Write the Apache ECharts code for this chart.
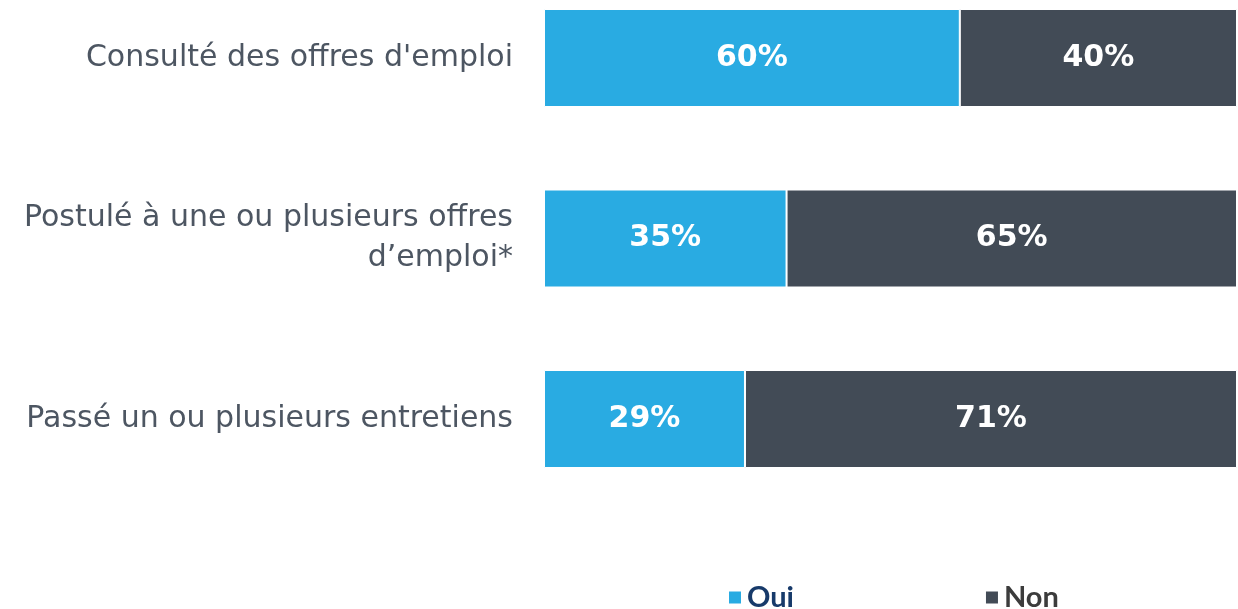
<!DOCTYPE html>
<html>
<head>
<meta charset="utf-8">
<script src="https://cdn.jsdelivr.net/npm/echarts@6/dist/echarts.min.js"></script>
<style>
  html, body { margin: 0; padding: 0; background: #fff; }
  #container { width: 1238px; height: 609px; }
</style>
</head>
<body>
<div id="container"></div>
<script>
var categories = ['Consulté des offres d\'emploi', 'Postulé à une ou plusieurs offres\nd’emploi*', 'Passé un ou plusieurs entretiens'];
var ouiValues = [60, 35, 29];
var nonValues = [40, 65, 71];
var seriesNames = ['Oui', 'Non'];

var dom = document.getElementById('container');
var myChart = echarts.init(dom);

var labelStyle = {
    show: true,
    position: 'inside',
    color: '#fff',
    fontFamily: 'DejaVu Sans',
    fontWeight: 'bold',
    fontSize: 30,
    formatter: '{c}%'
};

var option = {
    animation: false,
    grid: {
        left: 544,
        right: 1,
        top: 58,
        height: 361
    },
    legend: {
        left: 722,
        top: 578,
        icon: 'rect',
        itemWidth: 14,
        itemHeight: 14,
        itemGap: 190,
        textStyle: { fontFamily: 'Lato', fontWeight: 'bold', fontSize: 29 },
        data: [
            { name: seriesNames[0], textStyle: { color: '#173a6a' } },
            { name: seriesNames[1], textStyle: { color: '#3c3c3c' } }
        ]
    },
    xAxis: {
        type: 'value',
        min: 0,
        max: 100,
        show: false
    },
    yAxis: {
        type: 'category',
        inverse: true,
        boundaryGap: false,
        data: categories,
        axisLine: { show: false },
        axisTick: { show: false },
        axisLabel: {
            margin: 31,
            color: '#4d5662',
            fontFamily: 'DejaVu Sans',
            fontSize: 30,
            lineHeight: 40,
            align: 'right'
        }
    },
    series: [
        {
            name: seriesNames[0],
            type: 'bar',
            stack: 'total',
            barWidth: 98,
            itemStyle: { color: '#29abe2', borderColor: '#fff', borderWidth: 1 },
            label: labelStyle,
            data: ouiValues
        },
        {
            name: seriesNames[1],
            type: 'bar',
            stack: 'total',
            barWidth: 98,
            itemStyle: { color: '#424b56', borderColor: '#fff', borderWidth: 1 },
            label: labelStyle,
            data: nonValues
        }
    ]
};

myChart.setOption(option);
</script>
</body>
</html>
